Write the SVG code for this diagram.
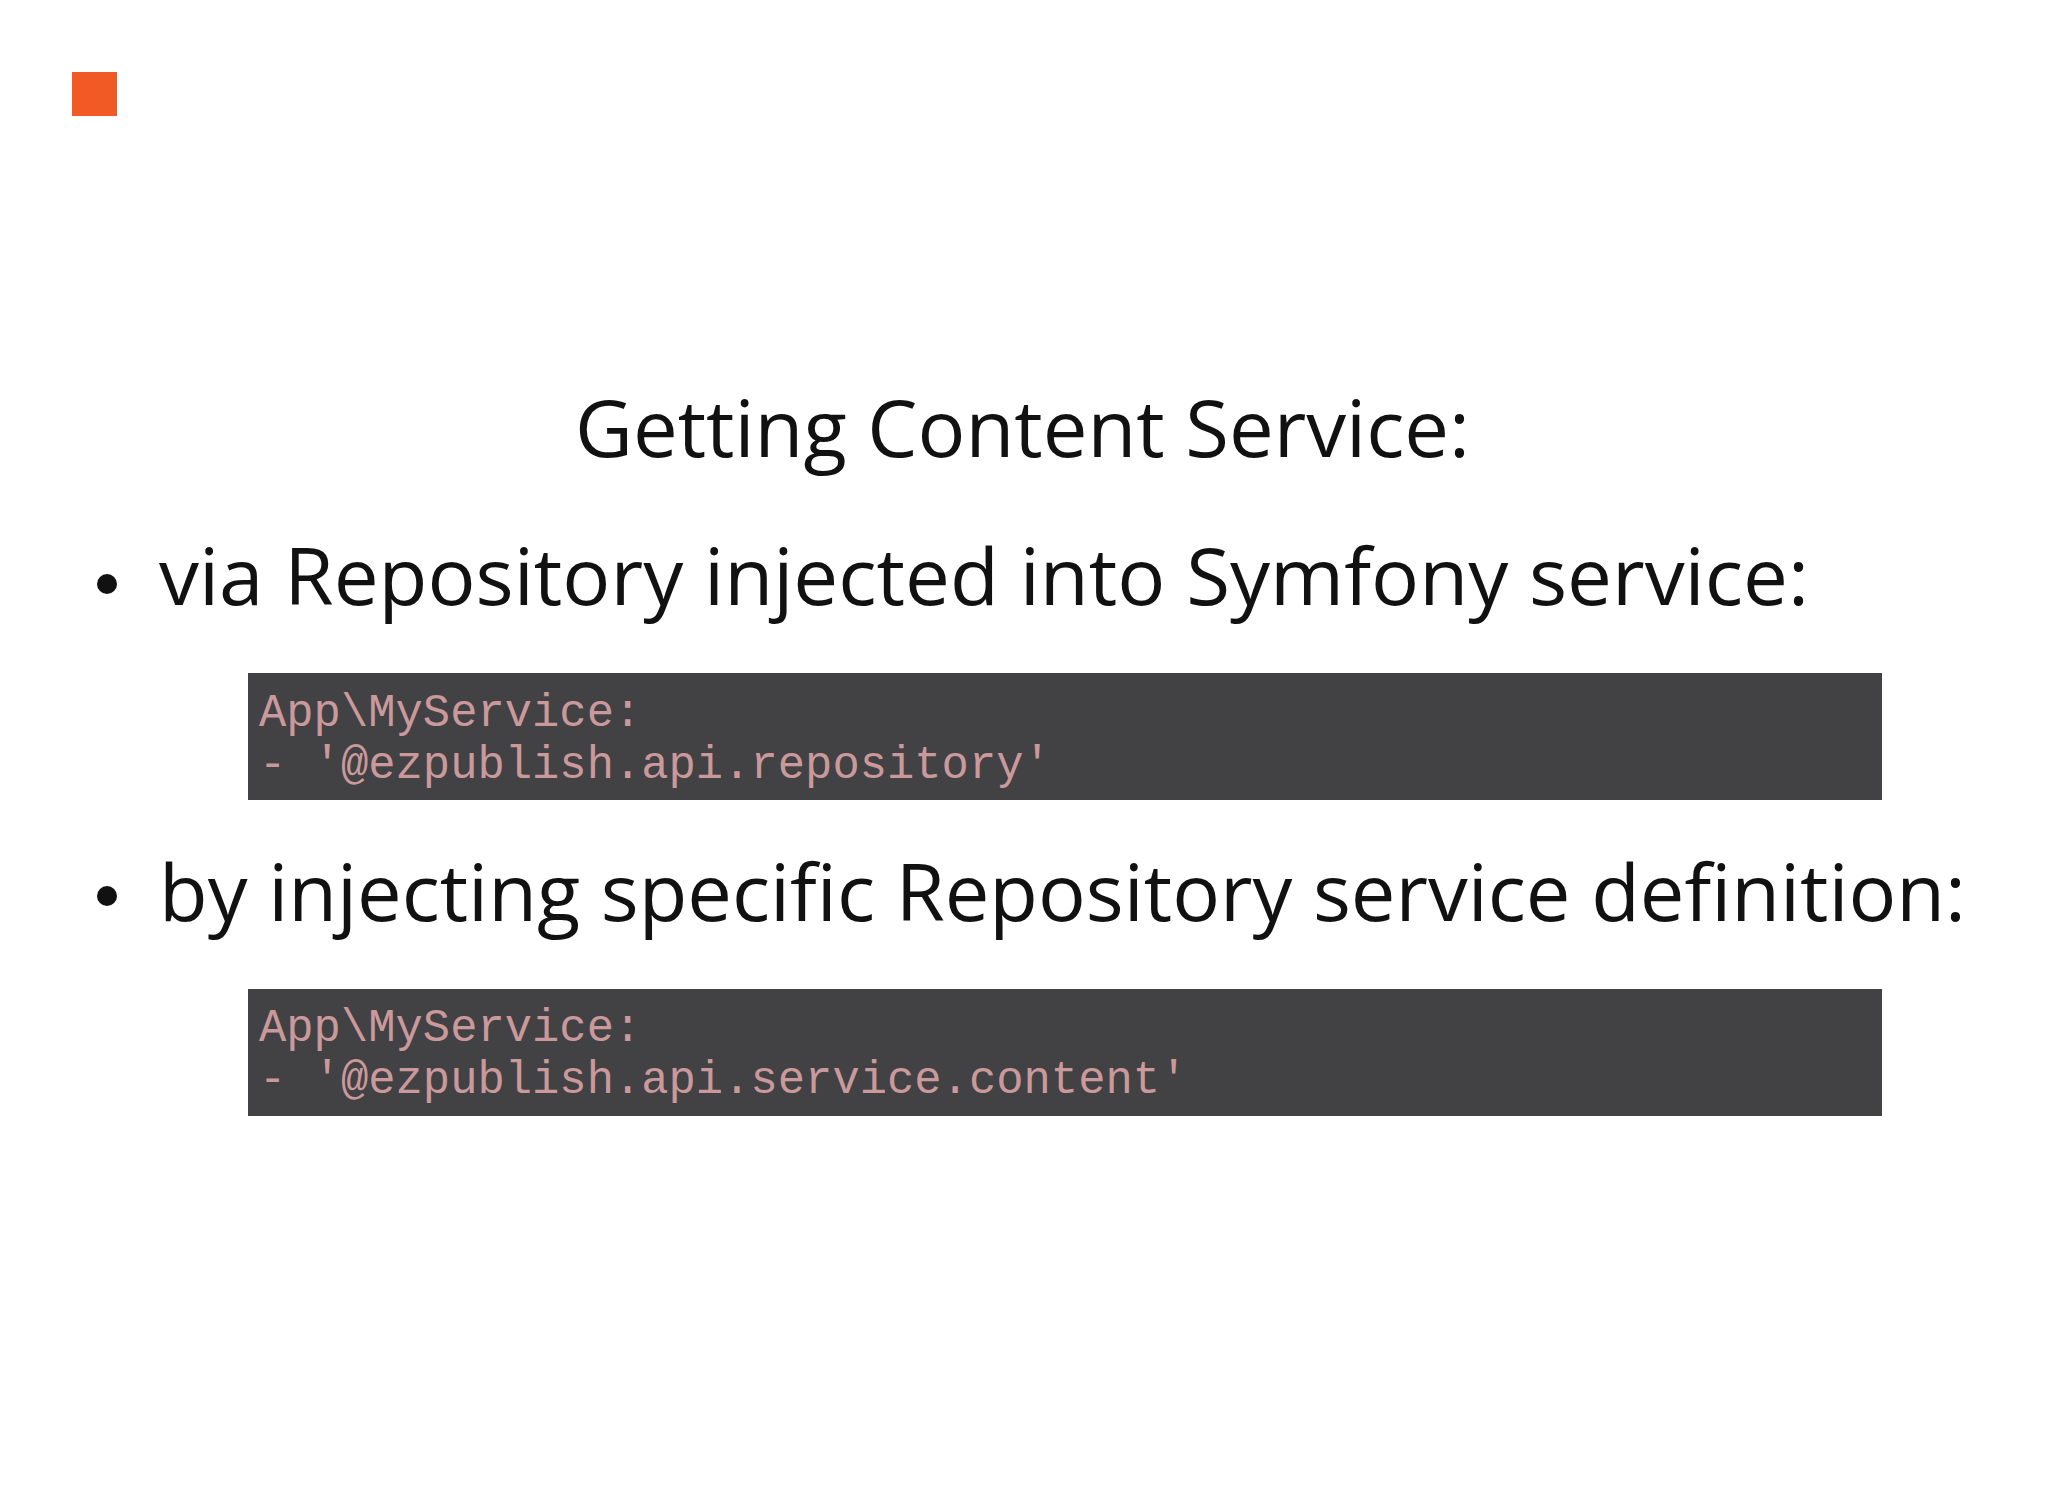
<svg xmlns="http://www.w3.org/2000/svg" width="2048" height="1493" viewBox="0 0 2048 1493">
<style>
.t{font-family:"Open Sans","DejaVu Sans",sans-serif;fill:#111;font-size:78px}
.c{font-family:"Liberation Mono",monospace;fill:#c9999c;font-size:45.5px}
.box{fill:#424143}
</style>
<rect width="2048" height="1493" fill="#fff"/>
<rect x="72" y="72" width="45" height="44" fill="#f15a24"/>
<g id="title"><text class="t" x="575" y="457" textLength="895" lengthAdjust="spacingAndGlyphs">Getting Content Service:</text></g>
<g id="bullet1">
<circle cx="107" cy="584" r="10" fill="#111"/>
<text class="t" x="159" y="605" textLength="1650" lengthAdjust="spacingAndGlyphs">via Repository injected into Symfony service:</text>
</g>
<g id="code1">
<rect class="box" x="248" y="673" width="1634" height="127"/>
<text class="c" x="259" y="726">App\MyService:</text>
<text class="c" x="259" y="778">- '@ezpublish.api.repository'</text>
</g>
<g id="bullet2">
<circle cx="107" cy="896" r="10" fill="#111"/>
<text class="t" x="159" y="921" textLength="1807" lengthAdjust="spacingAndGlyphs">by injecting specific Repository service definition:</text>
</g>
<g id="code2">
<rect class="box" x="248" y="989" width="1634" height="127"/>
<text class="c" x="259" y="1041">App\MyService:</text>
<text class="c" x="259" y="1093">- '@ezpublish.api.service.content'</text>
</g>
</svg>
